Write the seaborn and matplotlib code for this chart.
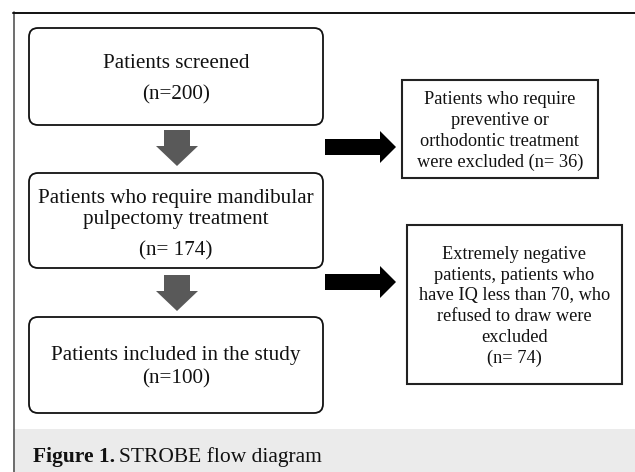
import matplotlib
matplotlib.use("Agg")
import matplotlib.pyplot as plt
import matplotlib.patches as mpatches
import seaborn as sns

# flow diagram content
main_steps = ["Patients screened",
              "Patients who require mandibular\npulpectomy treatment",
              "Patients included in the study"]
main_counts = ["(n=200)", "(n= 174)", "(n=100)"]
excluded_steps = ["Patients who require\npreventive or\northodontic treatment\nwere excluded (n= 36)",
                  "Extremely negative\npatients, patients who\nhave IQ less than 70, who\nrefused to draw were\nexcluded\n(n= 74)"]
caption_bold = "Figure 1."
caption_text = "STROBE flow diagram"

sns.set_style("white")
plt.rcParams['font.family'] = ['Liberation Serif', 'DejaVu Serif']

W, H = 635, 472
fig = plt.figure(figsize=(W / 100, H / 100), dpi=100)
ax = fig.add_axes([0, 0, 1, 1])
ax.set_xlim(0, W)
ax.set_ylim(H, 0)
ax.axis("off")

# caption band and outer frame
ax.add_patch(mpatches.Rectangle((13, 429), W - 13, H - 429, facecolor="#ebebeb", edgecolor="none"))
ax.plot([13.5, 13.5], [12, H], color="#555555", lw=1.2)
ax.plot([13, W], [12.5, 12.5], color="#111111", lw=1.4)

# main boxes: (top, bottom, title y, count y)
main_boxes = [(28, 125, 63, 95), (173, 268, 209, 251), (317, 413, 355.5, 379)]
for (top, bot, ty, cy), label, cnt in zip(main_boxes, main_steps, main_counts):
    ax.add_patch(mpatches.FancyBboxPatch((29, top), 294, bot - top,
                                         boxstyle="round,pad=0,rounding_size=9",
                                         facecolor="white", edgecolor="#111111", lw=1.3))
    ax.text(176, ty, label, ha="center", va="center", fontsize=15.2,
            linespacing=1.1, color="#111111")
    ax.text(176, cy, cnt, ha="center", va="center", fontsize=15.2, color="#111111")

# side boxes: (left, top, right, bottom, line spacing)
side_boxes = [(402, 80, 598, 178, 1.32), (407, 225, 622, 384, 1.28)]
for (l, t, r, b, ls), label in zip(side_boxes, excluded_steps):
    ax.add_patch(mpatches.Rectangle((l, t), r - l, b - t, facecolor="white",
                                    edgecolor="#222222", lw=1.5))
    ax.text((l + r) / 2, (t + b) / 2 + 2, label, ha="center", va="center",
            fontsize=13.2, linespacing=ls, color="#111111")

# grey down arrows
for top, tip in [(130, 166), (275, 311)]:
    cx = 177
    pts = [(cx - 13, top), (cx + 13, top), (cx + 13, top + 16), (cx + 21, top + 16),
           (cx, tip), (cx - 21, top + 16), (cx - 13, top + 16)]
    ax.add_patch(mpatches.Polygon(pts, closed=True, facecolor="#595959", edgecolor="none"))

# black right arrows
for cy in [147, 282]:
    pts = [(325, cy - 8), (380, cy - 8), (380, cy - 16), (396, cy),
           (380, cy + 16), (380, cy + 8), (325, cy + 8)]
    ax.add_patch(mpatches.Polygon(pts, closed=True, facecolor="black", edgecolor="none"))

# caption
t1 = ax.text(33, 457, caption_bold, ha="left", va="center", fontsize=15.5,
             fontweight="bold", color="#111111")
fig.canvas.draw()
bb = t1.get_window_extent(renderer=fig.canvas.get_renderer())
x_end = bb.x1  # pixel coords, same as data x here
ax.text(x_end + 4, 457, caption_text, ha="left", va="center", fontsize=15.5, color="#111111")

fig.savefig("out.png", dpi=100)
